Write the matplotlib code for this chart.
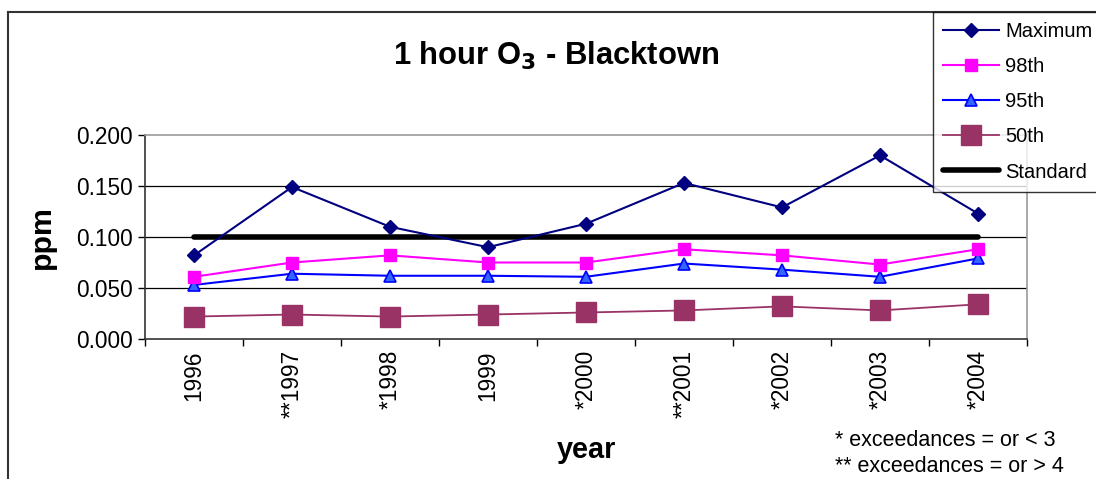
import matplotlib
matplotlib.use("Agg")
import matplotlib.pyplot as plt
from matplotlib.lines import Line2D
import numpy as np

plt.rcParams['font.family'] = ['Liberation Sans', 'DejaVu Sans']

years = ["1996", "**1997", "*1998", "1999", "*2000", "**2001", "*2002", "*2003", "*2004"]
maximum = [0.082, 0.149, 0.110, 0.090, 0.113, 0.153, 0.129, 0.180, 0.123]
p98 = [0.061, 0.075, 0.082, 0.075, 0.075, 0.088, 0.082, 0.073, 0.088]
p95 = [0.053, 0.064, 0.062, 0.062, 0.061, 0.074, 0.068, 0.061, 0.079]
p50 = [0.022, 0.024, 0.022, 0.024, 0.026, 0.028, 0.032, 0.028, 0.034]
standard = [0.100] * 9
y_ticks = [0.0, 0.05, 0.10, 0.15, 0.20]

W, H = 1096, 479
fig = plt.figure(figsize=(W / 100, H / 100), dpi=100)
ax = fig.add_axes([145 / W, 1 - 339 / H, (1027 - 145) / W, (339 - 135) / H])

x = np.arange(len(years))

for yv in y_ticks[1:-1]:
    ax.axhline(yv, color='black', lw=0.9, zorder=1)

ax.plot(x, standard, color='black', lw=4, solid_capstyle='round', zorder=2, label='Standard')
ax.plot(x, p50, color='#993366', lw=1.3, marker='s', ms=14, mfc='#993366', mec='#993366',
        zorder=3, label='50th')
ax.plot(x, p95, color='#0000FF', lw=1.5, marker='^', ms=9, mfc='#3366FF', mec='#0000FF',
        mew=1.2, zorder=4, label='95th')
ax.plot(x, p98, color='#FF00FF', lw=1.5, marker='s', ms=9, mfc='#FF00FF', mec='#FF00FF',
        zorder=5, label='98th')
ax.plot(x, maximum, color='#000080', lw=1.5, marker='D', ms=7, mfc='#000080', mec='#000080',
        zorder=6, label='Maximum')

ax.set_xlim(-0.5, len(years) - 0.5)
ax.set_ylim(0, 0.2)
ax.set_yticks(y_ticks)
ax.set_yticklabels([f"{v:.3f}" for v in y_ticks], fontsize=16.3)
ax.tick_params(axis='y', direction='out', length=5, width=1, pad=4)

ax.set_xticks(np.arange(-0.5, len(years), 1.0))
ax.set_xticklabels([])
ax.tick_params(axis='x', which='major', direction='out', length=5, width=1)
ax.set_xticks(x, minor=True)
ax.set_xticklabels(years, minor=True, rotation=90, fontsize=16.3, va='top', ha='center')
ax.tick_params(axis='x', which='minor', length=0, pad=8)

for s in ['top', 'right']:
    ax.spines[s].set_color('#999999')
    ax.spines[s].set_linewidth(1.2)
for s in ['left', 'bottom']:
    ax.spines[s].set_color('#333333')
    ax.spines[s].set_linewidth(1.2)

fig.text(556 / W, 1 - 56 / H, r"1 hour O$_{\mathbf{3}}$ - Blacktown", fontsize=22.3, fontweight='bold',
         ha='center', va='center')
fig.text(42 / W, 1 - 237 / H, "ppm", fontsize=21.8, fontweight='bold', rotation=90,
         ha='center', va='center')
fig.text(586 / W, 1 - 450 / H, "year", fontsize=20.8, fontweight='bold', ha='center', va='center')
fig.text(835 / W, 1 - 440 / H, "* exceedances = or < 3", fontsize=15.5, ha='left', va='center')
fig.text(835 / W, 1 - 466 / H, "** exceedances = or > 4", fontsize=15.5, ha='left', va='center')

# outer chart frame
fig.add_artist(Line2D([8 / W, 8 / W], [0, 1 - 12 / H], transform=fig.transFigure,
                      color='#333333', lw=1.5))
fig.add_artist(Line2D([8 / W, 1], [1 - 12 / H, 1 - 12 / H], transform=fig.transFigure,
                      color='#333333', lw=1.5))

handles, labels = ax.get_legend_handles_labels()
order = ['Maximum', '98th', '95th', '50th', 'Standard']
hl = {l: h for h, l in zip(handles, labels)}
leg = fig.legend([hl[o] for o in order], order, loc='upper left',
                 bbox_to_anchor=(933 / W, 1 - 12 / H), bbox_transform=fig.transFigure,
                 fontsize=14.5, frameon=True, fancybox=False, edgecolor='black',
                 handlelength=2.8, handletextpad=0.3, labelspacing=0.8, borderpad=0.5,
                 borderaxespad=0, markerscale=1.0)
leg.get_frame().set_linewidth(1.0)

fig.savefig("out.png", dpi=100)
